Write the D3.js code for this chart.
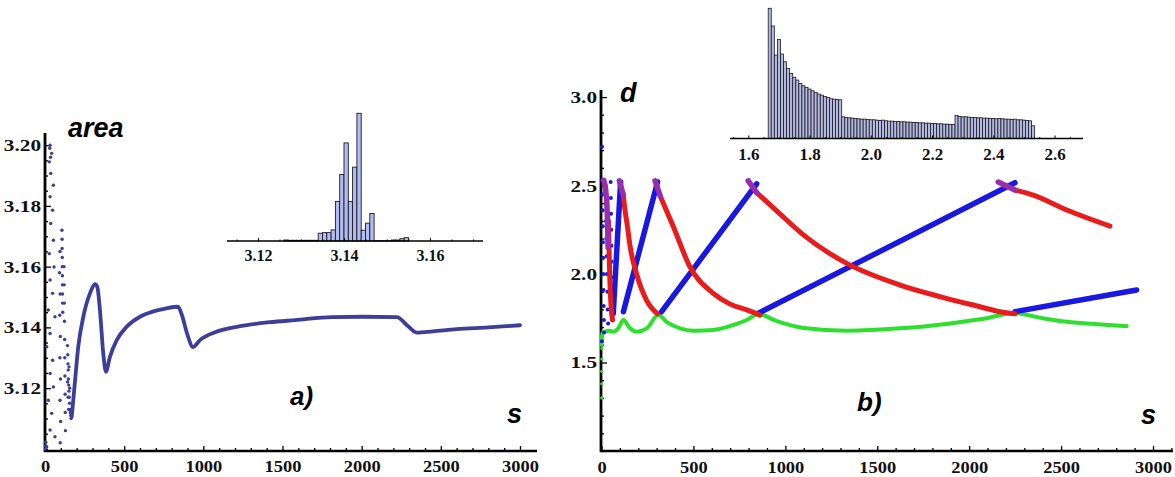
<!DOCTYPE html>
<html>
<head>
<meta charset="utf-8">
<script src="https://cdn.jsdelivr.net/npm/d3@7"></script>
<style>
body { margin: 0; background: #fff; }
.lab { font-family: "Liberation Sans", Arial, sans-serif; font-weight: bold; font-style: italic; }
.num { font-family: "Liberation Serif", "Times New Roman", serif !important; font-weight: bold; }
</style>
</head>
<body>
<svg id="fig" width="1175" height="477"></svg>
<script>
// ---------- data: panel a) area vs s ----------
var aCurve = [[169,3.1106],[190,3.1226],[210,3.1336],[242,3.1435],[284,3.1512],[316,3.1542],[330,3.1534],
  [347,3.1457],[368,3.1314],[385,3.1254],[410,3.1303],[453,3.1358],[516,3.1402],[600,3.1435],[680,3.1452],
  [760,3.1462],[840,3.1468],[865,3.1440],[900,3.1375],[935,3.1335],[979,3.1358],[1074,3.1384],[1232,3.1404],
  [1421,3.1417],[1580,3.1424],[1813,3.1434],[2000,3.1435],[2223,3.1434],[2290,3.1405],[2347,3.1383],
  [2450,3.1387],[2600,3.1394],[2800,3.1400],[3000,3.1407]];

// early scattered points of a)
var aDots = [[32,3.200],[42,3.1973],[27,3.1945],[36,3.1907],[53,3.1868],[32,3.1830],[48,3.1786],[36,3.1742],
  [53,3.1687],[27,3.1643],[57,3.1599],[32,3.1556],[48,3.1512],[21,3.1457],[63,3.1435],[32,3.1380],[11,3.1336],
  [48,3.1292],[32,3.1248],[53,3.1204],[21,3.1160],[42,3.1117],[32,3.1062],[63,3.1040],[11,3.1007],
  [3,3.1000],[4,3.1010],[5,3.1022],[30,3.1990],[35,3.1960],
  [95,3.165],[92,3.158],[96,3.151],[93,3.144],[97,3.137],[94,3.130],[98,3.123],[95,3.116],[99,3.109],[96,3.102],
  [107,3.172],[108,3.169],[108,3.166],[109,3.163],[109,3.160],[110,3.157],[110,3.154],[111,3.151],[111,3.148],[112,3.145],
  [120,3.160],[121,3.154],[122,3.148],[123,3.142],[124,3.136],[125,3.130],[126,3.124],[127,3.118],[128,3.112],[129,3.106],
  [142,3.134],[144,3.131],[145,3.128],[147,3.126],[148,3.123],[150,3.121],[151,3.119],[153,3.117],[155,3.115],
  [158,3.113],[160,3.112],[163,3.111],[165,3.110],[143,3.122],[146,3.117],[149,3.113],[152,3.127],[156,3.120]];

// inset a) histogram of area
var aHistStart = 3.126, aHistWidth = 0.001;
var aHistCounts = [1.0,0.7,0.7,0.7,0.7,0.7,0.7,0.7,7.7,8.3,8.3,11,39.3,66,97.3,39.3,73.3,126.7,10.7,17.7,27.3,
  0.3,0.3,0.3,0.3,1.0,1.0,2.3,3.3];

// ---------- data: panel b) d vs s ----------
var bGreen = [[0,1.60],[5,1.665],[19,1.674],[40,1.68],[64,1.674],[91,1.693],[119,1.74],[155,1.693],[191,1.674],
  [246,1.693],[309,1.768],[360,1.725],[427,1.693],[500,1.68],[608,1.684],[717,1.712],[790,1.74],[853,1.774],
  [950,1.735],[1100,1.695],[1334,1.68],[1624,1.693],[1896,1.721],[2059,1.744],[2249,1.778],[2400,1.750],
  [2531,1.730],[2700,1.716],[2857,1.706]];
var bGreenDots = [[1,1.30],[1,1.38],[1,1.45],[2,1.52],[2,1.58]];

var bBlue = [
  [[64,1.778],[104,2.52]],
  [[119,1.787],[305,2.52]],
  [[327,1.787],[844,2.51]],
  [[853,1.778],[2249,2.516]],
  [[2249,1.787],[2911,1.91]]
];
var bBlueDots = [[2,1.62],[3,2.72],[4,2.53],[5,2.45],[6,2.36],[7,2.27],[8,2.18],[9,2.09],[10,2.00],[11,1.91],
  [12,1.82],[13,1.74],[14,1.67],[50,2.52],[51,2.43],[52,2.34],[53,2.25],[54,2.16],[55,2.07],[56,1.98],[57,1.89],
  [58,1.80],[20,2.50],[22,2.40],[24,2.30],[26,2.20],[28,2.10],[30,2.00],[32,1.90],[34,1.80],[36,1.72]];

var bRed = [
  [[38,2.30],[42,2.10],[46,1.95],[52,1.82],[60,1.74]],
  [[118,2.45],[128,2.36],[141,2.27],[155,2.16],[191,2.00],[246,1.85],[305,1.775]],
  [[320,2.44],[391,2.267],[481,2.041],[608,1.891],[700,1.83],[790,1.797],[862,1.768]],
  [[844,2.46],[950,2.36],[1100,2.22],[1334,2.06],[1624,1.938],[1850,1.87],[2059,1.815],[2168,1.787],[2249,1.775]],
  [[2249,2.475],[2349,2.446],[2531,2.362],[2766,2.271]]
];
var bPurple = [
  [[12,2.53],[20,2.50],[28,2.42],[33,2.30],[36,2.15]],
  [[97,2.527],[118,2.45]],
  [[291,2.527],[320,2.44]],
  [[798,2.527],[844,2.46]],
  [[2158,2.52],[2249,2.475]]
];

// inset b) histogram of d
var bHistStart = 1.665, bHistWidth = 0.01;
var bHistCounts = [390,337,250,297,253,230,210,195,183,175,165,158,153,148,143,138,133,130,126,123,119,118,117,116,
  65,63,62,61,60,59,58,58,57,56,56,55,54,55,53,52,52,51,51,50,50,49,49,48,48,47,47,46,46,45,45,44,44,43,43,42,42,
  69,66,65,65,64,63,63,62,62,61,61,60,60,59,60,59,58,58,57,58,56,56,55,54,53,38];

// tick labels
var aXTicks = [0,500,1000,1500,2000,2500,3000];
var aYTicks = [3.12,3.14,3.16,3.18,3.20];
var aInsetTicks = [3.12,3.14,3.16];
var bXTicks = [0,500,1000,1500,2000,2500,3000];
var bYTicks = [1.5,2.0,2.5,3.0];
var bInsetTicks = [1.6,1.8,2.0,2.2,2.4,2.6];

// ---------- scales ----------
var svg = d3.select("#fig");
var xA = d3.scaleLinear().domain([0,3000]).range([45,520]);
var yA = d3.scaleLinear().domain([3.0993,3.204]).range([451,133]);
var xB = d3.scaleLinear().domain([0,3000]).range([601.5,1153]);
var yB = d3.scaleLinear().domain([1.0,3.04]).range([451,90]);
var xAi = d3.scaleLinear().domain([3.12,3.16]).range([258,430]);
var yAi = d3.scaleLinear().domain([0,127]).range([241,113]);
var xBi = d3.scaleLinear().domain([1.6,2.4]).range([748.3,993.3]);
var yBi = d3.scaleLinear().domain([0,390]).range([138.5,8.3]);

function stretch(sel, k) {
  sel.each(function() {
    var w = this.getComputedTextLength();
    d3.select(this).attr("textLength", w * k).attr("lengthAdjust", "spacingAndGlyphs");
  });
}

function styleLabels(sel, size) {
  sel.attr("class", "num").attr("font-family", "Liberation Serif, serif")
    .style("font-size", size + "px").attr("fill", "#111");
}

// horizontal axis with inward ticks
function xAxis(scale, y, ext, majors, minors, o) {
  var g = svg.append("g").attr("transform", "translate(0," + y + ")");
  g.append("g").call(d3.axisBottom(scale).tickValues(minors).tickSize(-o.minor).tickFormat(""))
    .call(function(a) { a.select(".domain").remove(); });
  var m = g.append("g").call(d3.axisBottom(scale).tickValues(majors).tickSize(-o.major)
      .tickPadding(o.pad).tickFormat(o.fmt))
    .attr("font-family", null)
    .call(function(a) { a.select(".domain").remove(); });
  g.selectAll(".tick line").attr("stroke", "#000").attr("stroke-width", o.tw);
  var t = m.selectAll("text");
  styleLabels(t, o.font);
  if (o.k) stretch(t, o.k);
  g.append("line").attr("x1", ext[0]).attr("x2", ext[1]).attr("stroke", "#000").attr("stroke-width", o.sw);
}

function yAxis(scale, x, ext, majors, minors, o) {
  var g = svg.append("g").attr("transform", "translate(" + x + ",0)");
  g.append("g").call(d3.axisLeft(scale).tickValues(minors).tickSize(-o.minor).tickFormat(""))
    .call(function(a) { a.select(".domain").remove(); });
  var m = g.append("g").call(d3.axisLeft(scale).tickValues(majors).tickSize(-o.major)
      .tickPadding(o.pad).tickFormat(o.fmt))
    .attr("font-family", null)
    .call(function(a) { a.select(".domain").remove(); });
  g.selectAll(".tick line").attr("stroke", "#000").attr("stroke-width", o.tw);
  var t = m.selectAll("text");
  styleLabels(t, o.font);
  if (o.k) stretch(t, o.k);
  g.append("line").attr("y1", ext[0]).attr("y2", ext[1]).attr("stroke", "#000").attr("stroke-width", o.sw);
}

function minorsOf(lo, hi, step, majors) {
  return d3.range(lo, hi + step / 2, step).filter(function(v) {
    return !majors.some(function(m) { return Math.abs(m - v) < step / 10; });
  });
}

// ---------- panel a) ----------
xAxis(xA, 451, [44, 537], aXTicks, minorsOf(0, 3000, 100, aXTicks),
  {major: 5, minor: 3, pad: 10, fmt: d3.format("d"), font: 16, k: 1.15, sw: 2.6, tw: 1.3});
yAxis(yA, 45, [133, 452], aYTicks, minorsOf(3.10, 3.20, 0.005, aYTicks),
  {major: 6, minor: 3, pad: 4, fmt: d3.format(".2f"), font: 17, k: 1.25, sw: 2.8, tw: 1.3});

var aColor = "#3c3e98";
svg.append("g").selectAll("circle").data(aDots).enter().append("circle")
  .attr("cx", function(d) { return xA(d[0]); })
  .attr("cy", function(d) { return yA(d[1]); })
  .attr("r", 1.7).attr("fill", aColor);

svg.append("path").datum(aCurve)
  .attr("d", d3.line().x(function(d) { return xA(d[0]); }).y(function(d) { return yA(d[1]); })
    .curve(d3.curveMonotoneX))
  .attr("fill", "none").attr("stroke", aColor).attr("stroke-width", 3.8)
  .attr("stroke-linejoin", "round").attr("stroke-linecap", "round");

// inset a)
svg.append("g").selectAll("rect").data(aHistCounts).enter().append("rect")
  .attr("x", function(d, i) { return xAi(aHistStart + i * aHistWidth); })
  .attr("width", function(d, i) { return xAi(aHistStart + (i + 1) * aHistWidth) - xAi(aHistStart + i * aHistWidth); })
  .attr("y", function(d) { return yAi(d); })
  .attr("height", function(d) { return yAi(0) - yAi(d); })
  .attr("fill", "#b3bcee").attr("stroke", "#1a1a2a").attr("stroke-width", 0.9);
xAxis(xAi, 241, [227, 483], aInsetTicks, minorsOf(3.115, 3.17, 0.005, aInsetTicks),
  {major: 3, minor: 1.5, pad: 9, fmt: d3.format(".2f"), font: 16, sw: 1.6, tw: 1});

svg.append("text").attr("class", "lab").attr("x", 68).attr("y", 137).style("font-size", "27px").text("area");
svg.append("text").attr("class", "lab").attr("x", 290).attr("y", 405).style("font-size", "26px").text("a)");
svg.append("text").attr("class", "lab").attr("x", 507).attr("y", 423).style("font-size", "27px").text("s");

// ---------- panel b) ----------
xAxis(xB, 451, [600, 1173], bXTicks, minorsOf(0, 3100, 100, bXTicks),
  {major: 5, minor: 3, pad: 11, fmt: d3.format("d"), font: 16, k: 1.15, sw: 2.6, tw: 1.3});
yAxis(yB, 601, [90, 452], bYTicks, minorsOf(1.0, 3.0, 0.1, bYTicks),
  {major: 6, minor: 3, pad: 4, fmt: d3.format(".1f"), font: 17, k: 1.25, sw: 2.8, tw: 1.3});

var lineB = d3.line().x(function(d) { return xB(d[0]); }).y(function(d) { return yB(d[1]); });
var curveB = d3.line().x(function(d) { return xB(d[0]); }).y(function(d) { return yB(d[1]); })
  .curve(d3.curveMonotoneX);

svg.append("g").selectAll("circle").data(bGreenDots).enter().append("circle")
  .attr("cx", function(d) { return xB(d[0]); }).attr("cy", function(d) { return yB(d[1]); })
  .attr("r", 1.6).attr("fill", "#2ee02e");
svg.append("path").datum(bGreen).attr("d", curveB)
  .attr("fill", "none").attr("stroke", "#2ee02e").attr("stroke-width", 4)
  .attr("stroke-linecap", "round").attr("stroke-linejoin", "round");

svg.append("g").selectAll("circle").data(bBlueDots).enter().append("circle")
  .attr("cx", function(d) { return xB(d[0]); }).attr("cy", function(d) { return yB(d[1]); })
  .attr("r", 2).attr("fill", "#1818e0");
svg.append("g").selectAll("path").data(bBlue).enter().append("path")
  .attr("d", lineB).attr("fill", "none").attr("stroke", "#1818e0").attr("stroke-width", 5.5)
  .attr("stroke-linecap", "round");

svg.append("g").selectAll("path").data(bRed).enter().append("path")
  .attr("d", curveB).attr("fill", "none").attr("stroke", "#e81c1c").attr("stroke-width", 5)
  .attr("stroke-linecap", "round").attr("stroke-linejoin", "round");

svg.append("g").selectAll("path").data(bPurple).enter().append("path")
  .attr("d", lineB).attr("fill", "none").attr("stroke", "#9a2cae").attr("stroke-width", 5.5)
  .attr("stroke-linecap", "round").attr("stroke-linejoin", "round");

// inset b)
svg.append("g").selectAll("rect").data(bHistCounts).enter().append("rect")
  .attr("x", function(d, i) { return xBi(bHistStart + i * bHistWidth); })
  .attr("width", function(d, i) { return xBi(bHistStart + (i + 1) * bHistWidth) - xBi(bHistStart + i * bHistWidth); })
  .attr("y", function(d) { return yBi(d); })
  .attr("height", function(d) { return yBi(0) - yBi(d); })
  .attr("fill", "#b5b9dc").attr("stroke", "#1a1a2a").attr("stroke-width", 0.8);
xAxis(xBi, 138.5, [730, 1083], bInsetTicks, minorsOf(1.55, 2.65, 0.05, bInsetTicks),
  {major: 3, minor: 1.5, pad: 9, fmt: d3.format(".1f"), font: 17, sw: 1.6, tw: 1});

svg.append("text").attr("class", "lab").attr("x", 620).attr("y", 102).style("font-size", "27px").text("d");
svg.append("text").attr("class", "lab").attr("x", 857).attr("y", 411).style("font-size", "26px").text("b)");
svg.append("text").attr("class", "lab").attr("x", 1141).attr("y", 424).style("font-size", "27px").text("s");
</script>
</body>
</html>
